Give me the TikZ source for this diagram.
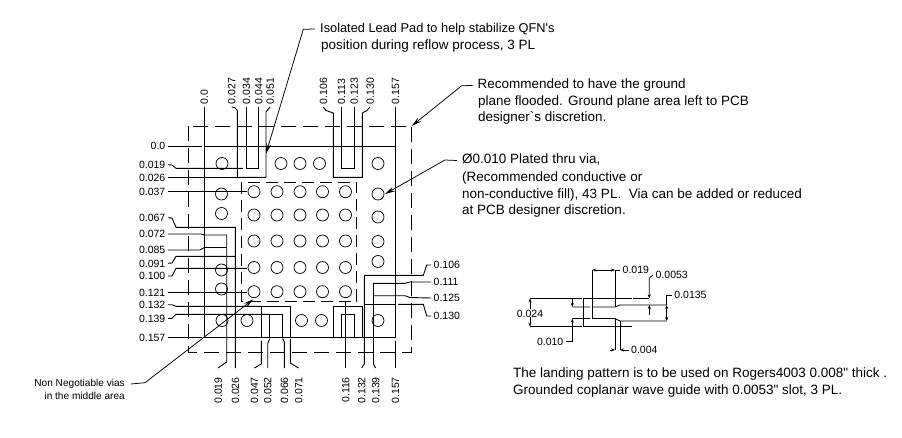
\documentclass[tikz,border=0pt]{standalone}
\usepackage{fontspec}
\setmainfont{Liberation Sans}
\usetikzlibrary{arrows.meta}

\tikzset{
  partline/.style={line width=0.9pt},
  dashouter/.style={line width=0.9pt,dash pattern=on 15pt off 7pt},
  dashinner/.style={line width=0.9pt,dash pattern=on 12pt off 6pt},
  viahole/.style={line width=0.75pt},
  numlabel/.style={font=\fontsize{10.5}{12}\selectfont,inner ysep=0pt,inner xsep=2.5pt,text height=7.5pt,text depth=0pt},
  numleft/.style={numlabel,anchor=east},
  numright/.style={numlabel,anchor=west},
  numtop/.style={numlabel,rotate=90,anchor=west},
  numbot/.style={numlabel,rotate=90,anchor=east,inner xsep=9pt},
  notetext/.style={font=\fontsize{13.5}{16}\selectfont,anchor=west,inner sep=0pt,text height=9pt,text depth=3pt},
  smallnote/.style={font=\fontsize{10.1}{12}\selectfont,anchor=east,inner sep=0pt,text height=7pt,text depth=2pt},
  notearrow/.style={line width=0.75pt,-{Stealth[length=10pt,width=5pt]}},
  dimtip/.style={line width=0.75pt,-{Stealth[length=4pt,width=3pt]}},
  dimboth/.style={line width=0.75pt,{Stealth[length=4pt,width=3pt]}-{Stealth[length=4pt,width=3pt]}}
}

\begin{document}
\begin{tikzpicture}[x=1pt,y=1pt,yscale=-1]
    \path[use as bounding box] (0,0) rectangle (902,437);

    %Shape: ground plane area
    \draw [dashouter] (188.7,126) rectangle (411.7,352.7);
    %Shape: middle area
    \draw [dashinner] (241.3,182.3) rectangle (356.7,301);
    %Shape: package body
    \draw [partline] (204,146) rectangle (395.3,337.3);

    %Shape: vias, top row
    \draw [viahole] (222,163.5) circle (6) (281,163.5) circle (6) (300,163.5) circle (6) (319.5,163.5) circle (6) (378,163.5) circle (6);
    %Shape: vias, left column
    \draw [viahole] (221.5,194) circle (6) (221.5,213.5) circle (6) (221.5,270) circle (6) (221.5,289) circle (6);
    %Shape: vias, right column
    \draw [viahole] (378,194) circle (6) (378,217) circle (6) (378,241.5) circle (6) (378,261.5) circle (6);
    %Shape: vias, bottom row
    \draw [viahole] (222,320.5) circle (6) (247,320.5) circle (6) (301.5,320.5) circle (6) (321.5,320.5) circle (6) (378,320.5) circle (6);
    %Shape: vias, middle area
    \draw [viahole] (254,191.7) circle (6) (277,191.7) circle (6) (300,191.7) circle (6) (322.5,191.7) circle (6) (345.5,191.7) circle (6);
    \draw [viahole] (254,215) circle (6) (277,215) circle (6) (300,215) circle (6) (322.5,215) circle (6) (345.5,215) circle (6);
    \draw [viahole] (254,241) circle (6) (277,241) circle (6) (300,241) circle (6) (322.5,241) circle (6) (345.5,241) circle (6);
    \draw [viahole] (254,267.5) circle (6) (277,267.5) circle (6) (300,267.5) circle (6) (322.5,267.5) circle (6) (345.5,267.5) circle (6);
    \draw [viahole] (254,291.7) circle (6) (277,291.7) circle (6) (300,291.7) circle (6) (322.5,291.7) circle (6) (345.5,291.7) circle (6);

    % Text Node, top
    \draw (204,106.7) node [numtop] (top000) {0.0};
    \draw (231.7,107) node [numtop] (top027) {0.027};
    \draw (246.3,106.7) node [numtop] (top034) {0.034};
    \draw (258.7,106.7) node [numtop] (top044) {0.044};
    \draw (270,107) node [numtop] (top051) {0.051};
    \draw (323.3,107) node [numtop] (top106) {0.106};
    \draw (341.3,106.7) node [numtop] (top113) {0.113};
    \draw (354,106.7) node [numtop] (top123) {0.123};
    \draw (370,107) node [numtop] (top130) {0.130};
    \draw (395.3,106.7) node [numtop] (top157) {0.157};

    %Straight Lines, top
    \draw [partline] (top000.west) -- (204,146);
    \draw [partline] (top027.west) -- (235,107.7) -- (237.3,110.7) -- (237.3,177.3) -- (266,177.3) -- (266,112) -- (top051.west);
    \draw [partline] (top034.west) -- (246.3,168.3) -- (258.7,168.3) -- (top044.west);
    \draw [partline] (top106.west) -- (326,110.5) -- (333.3,113) -- (333.3,177.3) -- (362.3,177.3) -- (362.3,113) -- (367,110.5) -- (top130.west);
    \draw [partline] (top113.west) -- (341.3,168.3) -- (354,168.3) -- (top123.west);
    \draw [partline] (top157.west) -- (395.3,146);

    % Text Node, left
    \draw (168,146) node [numleft] (left000) {0.0};
    \draw (168,164.7) node [numleft] (left019) {0.019};
    \draw (168,177.3) node [numleft] (left026) {0.026};
    \draw (168,191.7) node [numleft] (left037) {0.037};
    \draw (168,217.7) node [numleft] (left067) {0.067};
    \draw (168,234) node [numleft] (left072) {0.072};
    \draw (168,250) node [numleft] (left085) {0.085};
    \draw (168,263.3) node [numleft] (left091) {0.091};
    \draw (168,276) node [numleft] (left100) {0.100};
    \draw (168,292.7) node [numleft] (left121) {0.121};
    \draw (168,304.7) node [numleft] (left132) {0.132};
    \draw (168,318.3) node [numleft] (left139) {0.139};
    \draw (168,337.5) node [numleft] (left157) {0.157};

    %Straight Lines, left
    \draw [partline] (left000.east) -- (201.5,146);
    \draw [partline] (left019.east) -- (172,165) -- (176,168.3) -- (243,168.3);
    \draw [partline] (left026.east) -- (237.3,177.3);
    \draw [partline] (left037.east) -- (247,191.7);
    \draw [partline] (left067.east) -- (172,218) -- (176,227.3) -- (235.3,227.3) -- (235.3,368) node [numbot] (bot026) {0.026};
    \draw [partline] (left072.east) -- (201,234) -- (204,235) -- (226.7,235) -- (226.7,362) -- (218,368) node [numbot] (bot019) {0.019};
    \draw [partline] (204,247.7) -- (226.7,247.7);
    \draw [partline] (left085.east) -- (200,250) -- (204,247.7);
    \draw [partline] (left091.east) -- (172,263) -- (176,256.3) -- (235.3,256.3);
    \draw [partline] (left100.east) -- (172,276) -- (176,268.3) -- (247,268.3);
    \draw [partline] (left121.east) -- (247,292.7);
    \draw [partline] (left132.east) -- (172,304.7) -- (176,306.3) -- (261.3,306.3);
    \draw [partline] (left139.east) -- (172,318.3) -- (176,314.3) -- (269.7,314.3);
    \draw [partline] (left157.east) -- (201.5,337.5);

    % Text Node, bottom
    \draw (254.3,368) node [numbot] (bot047) {0.047};
    \draw (267.7,368) node [numbot] (bot052) {0.052};
    \draw (284.3,368) node [numbot] (bot066) {0.066};
    \draw (298.5,368) node [numbot] (bot071) {0.071};
    \draw (345.5,368) node [numbot] (bot116) {0.116};
    \draw (361.7,368) node [numbot] (bot132) {0.132};
    \draw (375.5,368) node [numbot] (bot139) {0.139};
    \draw (395.3,368) node [numbot] (bot157) {0.157};

    %Straight Lines, bottom
    \draw [partline] (261.3,337.3) -- (261.3,306.3) -- (290.3,306.3) -- (290.3,337.3);
    \draw [partline] (269.7,337.3) -- (269.7,314.3) -- (282.7,314.3) -- (282.7,337.3);
    \draw [partline] (333.3,337.3) -- (333.3,306.3) -- (362.7,306.3) -- (362.7,337.3);
    \draw [partline] (341.7,337.3) -- (341.7,314.3) -- (354.3,314.3) -- (354.3,337.3);
    \draw [partline] (261.3,340.7) -- (261.3,364) -- (bot047.east);
    \draw [partline] (270,338.5) -- (267.7,343.5) -- (bot052.east);
    \draw [partline] (282.7,338.5) -- (284.3,342) -- (bot066.east);
    \draw [partline] (290.3,338.5) -- (290.3,363) -- (bot071.east);
    \draw [partline] (345.5,301) -- (bot116.east);
    \draw [partline] (364.3,275.3) -- (364.3,364) -- (bot132.east);
    \draw [partline] (373.5,283.3) -- (373.5,364) -- (bot139.east);
    \draw [partline] (395.3,340.7) -- (bot157.east);

    % Text Node, right
    \draw (431,265) node [numright] (right106) {0.106};
    \draw (431,282) node [numright] (right111) {0.111};
    \draw (431,298) node [numright] (right125) {0.125};
    \draw (431,316) node [numright] (right130) {0.130};

    %Straight Lines, right
    \draw [partline] (right106.west) -- (426.7,265) -- (423.3,275.3) -- (364.3,275.3);
    \draw [partline] (right111.west) -- (410,282) -- (405,283.3) -- (373.5,283.3) -- (373.5,295.7) -- (405,295.7) -- (410,297.5) -- (right125.west);
    \draw [partline] (right130.west) -- (426.7,316) -- (423.3,304.3) -- (398,304.3);
    \draw [partline] (395.3,304.3) -- (364.3,304.3);

    % Text Node, notes
    \draw (320,29) node [notetext,font=\fontsize{12.8}{16}\selectfont] (isolatedA) {Isolated Lead Pad to help stabilize QFN\textquotesingle s};
    \draw (321,46) node [notetext] (isolatedB) {position during reflow process, 3 PL};
    \draw (477.5,85.5) node [notetext] (groundA) {Recommended to have the ground};
    \draw (478,102) node [notetext] (groundB) {plane flooded. Ground plane area left to PCB};
    \draw (478,118) node [notetext] (groundC) {designer\textasciigrave s discretion.};
    \draw (462,160.5) node [notetext] (viaA) {Ø0.010 Plated thru via,};
    \draw (462,178) node [notetext] (viaB) {(Recommended conductive or};
    \draw (462,195) node [notetext] (viaC) {non-conductive fill), 43 PL.\ \ Via can be added or reduced};
    \draw (462,211) node [notetext] (viaD) {at PCB designer discretion.};
    \draw (125,384) node [smallnote] (middleA) {Non Negotiable vias};
    \draw (125,397) node [smallnote] (middleB) {in the middle area};
    \draw (513,374) node [notetext] (landingA) {The landing pattern is to be used on Rogers4003 0.008\textquotedbl\ thick .};
    \draw (513,391) node [notetext] (landingB) {Grounded coplanar wave guide with 0.0053\textquotedbl\ slot, 3 PL.};

    %Straight Lines, note leaders
    \coordinate (padtip) at (266,153.5);
    \coordinate (planetip) at (411.7,126);
    \coordinate (viatip) at (385,194);
    \coordinate (middletip) at (253.3,299.3);
    \draw [notearrow] ([xshift=-5pt]isolatedA.west) -- (303.3,29.3) -- (padtip);
    \draw [notearrow] ([xshift=-5pt]groundA.west) -- (461.7,85.7) -- (planetip);
    \draw [notearrow] ([xshift=-5pt]viaA.west) -- (445,160) -- (viatip);
    \draw [notearrow] ([xshift=6pt]middleA.east) -- (145,382.7) -- (middletip);

    %Shape: landing pattern
    \draw [partline] (530,298.3) -- (581.7,298.3) (583.3,298.3) -- (631.7,298.3) (633.3,298.3) -- (649.3,298.3);
    \draw [partline] (530,326.7) -- (581.7,326.7) (583.3,326.7) -- (631.7,326.7);
    \draw [partline] (583.3,298.3) -- (583.3,326.7);
    \draw [partline] (572.3,307) -- (590,307) (592.3,307) -- (615,307) -- (620,305) -- (666.7,305);
    \draw [partline] (572.3,318.5) -- (590,318.5) (592.3,318.5) -- (615,318.5) -- (620,321) -- (666.7,321);
    \draw [partline] (592.3,270) -- (592.3,318.5);
    \draw [partline] (615,270) -- (615,307);
    \draw [partline] (615,318.5) -- (615,350);
    \draw [partline] (620,321) -- (620,350);

    % Text Node, landing pattern
    \draw (530,313.3) node [numlabel,inner xsep=0pt] (dim024) {0.024};
    \draw (620,270) node [numright] (dim019) {0.019};
    \draw (653,275) node [numright] (dim0053) {0.0053};
    \draw (671.7,295) node [numright] (dim0135) {0.0135};
    \draw (566,341.7) node [numleft] (dim010) {0.010};
    \draw (628.5,350) node [numright] (dim004) {0.004};

    %Straight Lines, landing pattern dimensions
    \draw [dimtip] (dim024.north) -- (530,298.3);
    \draw [dimtip] (dim024.south) -- (530,326.7);
    \draw [dimboth] (592.3,270) -- (615,270);
    \draw [partline] (615,270) -- (dim019.west);
    \draw [dimtip] (dim0053.west) -- (649.3,278) -- (649.3,298.3);
    \draw [dimtip] (649.3,315) -- (649.3,305);
    \draw [dimboth] (666.7,305) -- (666.7,321);
    \draw [partline] (dim0135.west) -- (666.7,295) -- (666.7,305);
    \draw [dimtip] (dim010.east) -- (572.3,341.7) -- (572.3,318.5);
    \draw [dimtip] (572.3,298.3) -- (572.3,307);
    \draw [dimtip] (610,350) -- (615,350);
    \draw [dimtip] (dim004.west) -- (620,350);
\end{tikzpicture}
\end{document}
